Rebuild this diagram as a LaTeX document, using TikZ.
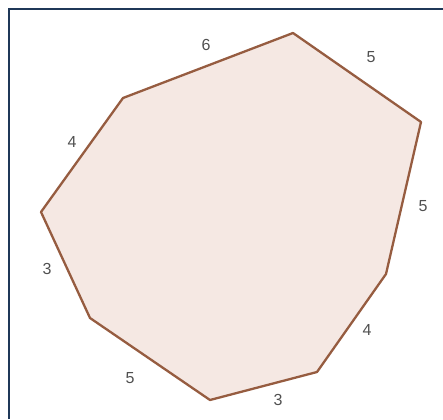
\documentclass[tikz,border=0pt]{standalone}
\usepackage{fontspec}
\setmainfont{Liberation Sans}
\usetikzlibrary{positioning}
\definecolor{edgebrown}{RGB}{150,92,64}
\definecolor{facepeach}{RGB}{245,232,227}
\definecolor{framenavy}{RGB}{31,56,88}
\definecolor{labelgray}{RGB}{80,80,80}
\tikzset{
    side/.style={draw=edgebrown, line width=2.3pt, line join=round, fill=facepeach},
    len/.style={text=labelgray, font=\fontsize{16}{18}\selectfont, inner sep=1pt},
    frameline/.style={draw=framenavy, line width=2.4pt}
}

\begin{document}
\begin{tikzpicture}[x=1pt, y=-1pt]
    \useasboundingbox (0,0) rectangle (443,419);
    % frame, open to the right and bottom
    \coordinate (f1) at (9,419);
    \coordinate (f2) at (9,9);
    \coordinate (f3) at (443,9);
    \draw[frameline] (f1) -- (f2) -- (f3);
    % corners of the octagon
    \coordinate (a1) at (293,33);
    \coordinate (a2) at (421,122);
    \coordinate (a3) at (386,274);
    \coordinate (a4) at (317,372);
    \coordinate (a5) at (210,400);
    \coordinate (a6) at (90,318);
    \coordinate (a7) at (41,212);
    \coordinate (a8) at (123,98);
    \draw[side] (a1) -- (a2) -- (a3) -- (a4) -- (a5) -- (a6) -- (a7) -- (a8) -- cycle;
    % side lengths
    \node[len] (l1) at (371,57) {5};
    \node[len] (l2) at (423,206) {5};
    \node[len] (l3) at (367,330) {4};
    \node[len] (l4) at (278,400) {3};
    \node[len] (l5) at (130,378) {5};
    \node[len] (l6) at (47,269) {3};
    \node[len] (l7) at (72,142) {4};
    \node[len] (l8) at (206,45) {6};
\end{tikzpicture}
\end{document}
